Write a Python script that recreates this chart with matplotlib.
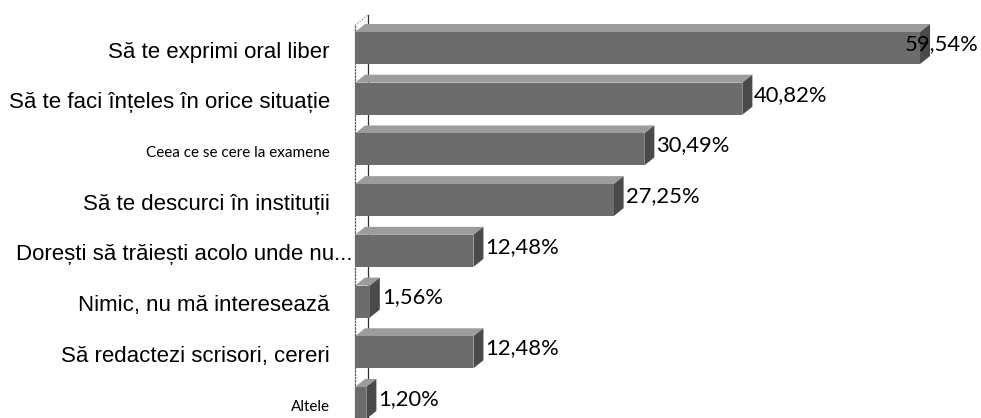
import numpy as np
import matplotlib
matplotlib.use('Agg')
import matplotlib.pyplot as plt
from matplotlib.patches import Polygon

# Data

categories = ['Să te exprimi oral liber',
              'Să te faci înțeles în orice situație',
              'Ceea ce se cere la examene',
              'Să te descurci în instituții',
              'Dorești să trăiești acolo unde nu...',
              'Nimic, nu mă interesează',
              'Să redactezi scrisori, cereri',
              'Altele']

values = [59.54, 40.82, 30.49, 27.25, 12.48, 1.56, 12.48, 1.20]

value_labels = ['59,54%', '40,82%', '30,49%', '27,25%', '12,48%', '1,56%', '12,48%', '1,20%']

# Calibri-style labels are drawn smaller in the original
small_labels = ['Ceea ce se cere la examene', 'Altele']

W, H = 981, 418
fig = plt.figure(figsize=(W / 100, H / 100), dpi=100)

# axes area in pixels
AX_LEFT, AX_TOP = 355, 10
ax = fig.add_axes([AX_LEFT / W, 0, 1 - AX_LEFT / W, (H - AX_TOP) / H])

PX_PER_X = 9.49
PX_PER_Y = 50.7
xmax = (W - AX_LEFT) / PX_PER_X
ymin_top = -(52 - AX_TOP) / PX_PER_Y
ax.set_xlim(0, xmax)
ax.set_ylim(7 + (H - 407) / PX_PER_Y, ymin_top)

# 3D depth of the bars, in pixels -> data units
DX, DY = 10, 8
dx = DX / PX_PER_X
dy = DY / PX_PER_Y   # y axis is inverted: going up is negative

bar_h = 32 / PX_PER_Y
shift = -4 / PX_PER_Y     # bars sit a little above the category labels
y = np.arange(len(categories))

# back wall
ax.plot([dx * 1.3, dx * 1.3], [ax.get_ylim()[0], ymin_top + 0.1], color='#333333', lw=0.9, zorder=1)
ax.plot([0, dx * 1.3], [ymin_top + 0.3, ymin_top + 0.1], color='#777777', lw=0.8, ls=':', zorder=1)

front = '#6c6c6c'
top = '#9c9c9c'
side = '#4a4a4a'

for yi, v in zip(y, values):
    c = yi + shift
    y0 = c - bar_h / 2
    y1 = c + bar_h / 2
    ax.add_patch(Polygon([(0, y0), (v, y0), (v + dx, y0 - dy), (dx, y0 - dy)],
                         closed=True, facecolor=top, edgecolor='none', zorder=2))
    ax.add_patch(Polygon([(v, y0), (v + dx, y0 - dy), (v + dx, y1 - dy), (v, y1)],
                         closed=True, facecolor=side, edgecolor='none', zorder=2))
    ax.barh(c, v, height=bar_h, left=0, color=front, edgecolor='none', zorder=3)

# value labels
label_limit = (905 - AX_LEFT) / PX_PER_X
for yi, v, lab in zip(y, values, value_labels):
    ax.text(min(v + dx + 0.2, label_limit), yi + shift - dy / 2, lab, ha='left', va='center',
            fontsize=15.8, family=['Lato', 'DejaVu Sans'], color='black', zorder=5)

# category labels
ax.set_yticks([])
ax.set_xticks([])
for yi, cat in zip(y, categories):
    if cat in small_labels:
        fs, fam = 11, ['Lato', 'DejaVu Sans']
    else:
        fs, fam = 16, ['Liberation Sans', 'DejaVu Sans']
    xoff = -25
    if cat.endswith('...'):
        xoff = -3
    ax.annotate(cat, xy=(0, yi), xycoords=('axes fraction', 'data'),
                xytext=(xoff * 0.72, 0), textcoords='offset points',
                ha='right', va='center', fontsize=fs, family=fam, color='black')

for s in ['top', 'right', 'bottom']:
    ax.spines[s].set_visible(False)
ax.spines['left'].set_linestyle(':')
ax.spines['left'].set_color('#555555')
ax.spines['left'].set_linewidth(0.9)
ax.spines['left'].set_bounds(ax.get_ylim()[0], ymin_top + 0.3)

fig.savefig('out.png', dpi=100)
